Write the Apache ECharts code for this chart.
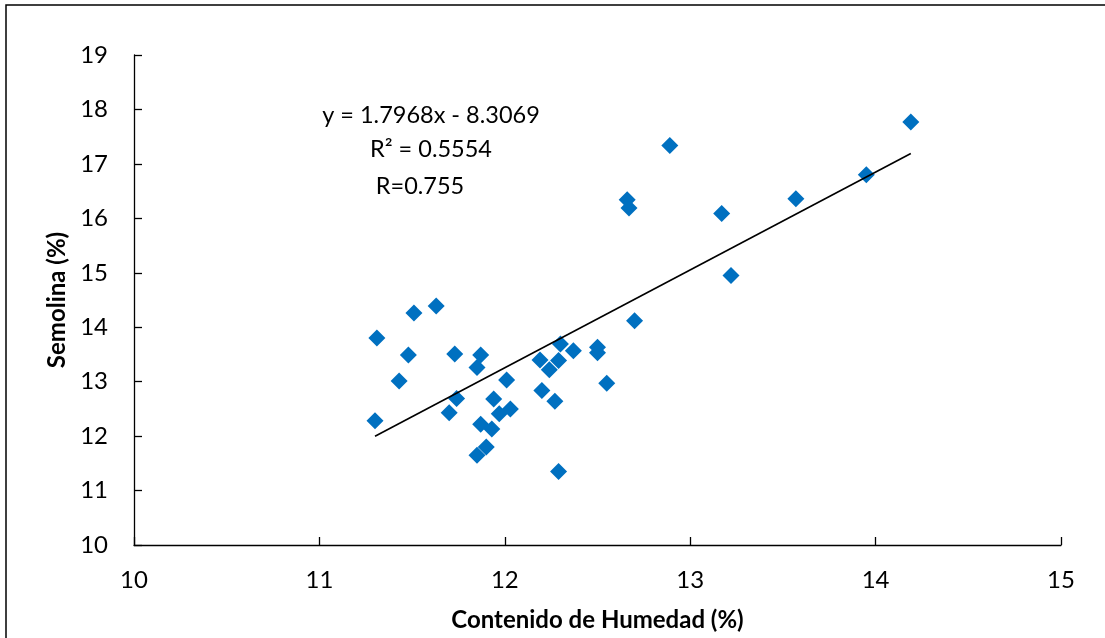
<!DOCTYPE html>
<html>
<head>
<meta charset="utf-8">
<script src="https://cdn.jsdelivr.net/npm/echarts@6/dist/echarts.min.js"></script>
<style>
  html, body { margin: 0; padding: 0; background: #fff; }
  #chart { width: 1105px; height: 638px; }
</style>
</head>
<body>
<div id="chart"></div>
<script>
// Moisture content (%) of each sample
const humedad = [
  11.31, 11.30, 11.51, 11.63, 11.48, 11.43, 11.73, 11.74, 11.70, 11.87,
  11.85, 12.01, 11.94, 12.03, 11.97, 11.87, 11.93, 11.85, 11.90, 12.19,
  12.24, 12.29, 12.30, 12.37, 12.20, 12.27, 12.29, 12.50, 12.50, 12.55,
  12.70, 12.66, 12.67, 12.89, 13.17, 13.22, 13.57, 13.95, 14.19
];
// Semolina yield (%) of each sample
const semolina = [
  13.80, 12.28, 14.26, 14.39, 13.49, 13.01, 13.51, 12.69, 12.43, 13.49,
  13.26, 13.03, 12.68, 12.50, 12.41, 12.22, 12.13, 11.65, 11.80, 13.40,
  13.22, 13.39, 13.69, 13.57, 12.84, 12.64, 11.35, 13.63, 13.53, 12.97,
  14.12, 16.34, 16.19, 17.34, 16.09, 14.95, 16.36, 16.80, 17.77
];
// Linear fit reported on the chart
const slope = 1.7968;
const intercept = -8.3069;
const fitLabels = ['y = 1.7968x - 8.3069', 'R² = 0.5554', 'R=0.755'];
const xTitle = 'Contenido de Humedad (%)';
const yTitle = 'Semolina (%)';

const points = humedad.map((x, i) => [x, semolina[i]]);
const xMin = Math.min(...humedad);
const xMax = Math.max(...humedad);
const fitLine = [[xMin, slope * xMin + intercept], [xMax, slope * xMax + intercept]];

const font = 'Lato, "Open Sans", sans-serif';
const chart = echarts.init(document.getElementById('chart'), null, { renderer: 'canvas' });

chart.setOption({
  animation: false,
  backgroundColor: '#fff',
  grid: { left: 134, top: 55, right: 44, bottom: 93, containLabel: false },
  xAxis: {
    type: 'value', min: 10, max: 15, interval: 1,
    name: xTitle, nameLocation: 'middle', nameGap: 63,
    nameTextStyle: { fontFamily: font, fontSize: 24, fontWeight: 'bold', color: '#000' },
    axisLine: { show: true, onZero: false, lineStyle: { color: '#000', width: 1.3 } },
    axisTick: { show: true, inside: true, length: 8, lineStyle: { color: '#000', width: 1.3 } },
    axisLabel: { fontFamily: font, fontSize: 24, color: '#000', margin: 23 },
    splitLine: { show: false }
  },
  yAxis: {
    type: 'value', min: 10, max: 19, interval: 1,
    name: yTitle, nameLocation: 'middle', nameGap: 64, nameRotate: 90,
    nameTextStyle: { fontFamily: font, fontSize: 24, fontWeight: 'bold', color: '#000' },
    axisLine: { show: true, onZero: false, lineStyle: { color: '#000', width: 1.3 } },
    axisTick: { show: true, inside: true, length: 8, lineStyle: { color: '#000', width: 1.3 } },
    axisLabel: { fontFamily: font, fontSize: 24, color: '#000', margin: 26 },
    splitLine: { show: false }
  },
  series: [
    {
      type: 'line',
      data: fitLine,
      symbol: 'none',
      lineStyle: { color: '#000', width: 1.6 },
      z: 3
    },
    {
      type: 'scatter',
      data: points,
      symbol: 'diamond',
      symbolSize: 17,
      itemStyle: { color: '#0070C0', opacity: 1 },
      z: 2
    }
  ],
  graphic: [
    {
      type: 'rect',
      shape: { x: 6, y: 5, width: 1120, height: 660 },
      style: { fill: 'none', stroke: '#000', lineWidth: 1.5 },
      silent: true
    },
    {
      type: 'text', x: 431, y: 115,
      style: { text: fitLabels[0], fontFamily: font, fontSize: 23.5, fill: '#000', align: 'center', verticalAlign: 'middle' }
    },
    {
      type: 'text', x: 431, y: 149,
      style: { text: fitLabels[1], fontFamily: font, fontSize: 23.5, fill: '#000', align: 'center', verticalAlign: 'middle' }
    },
    {
      type: 'text', x: 420, y: 186,
      style: { text: fitLabels[2], fontFamily: font, fontSize: 23.5, fill: '#000', align: 'center', verticalAlign: 'middle' }
    }
  ]
});
</script>
</body>
</html>
